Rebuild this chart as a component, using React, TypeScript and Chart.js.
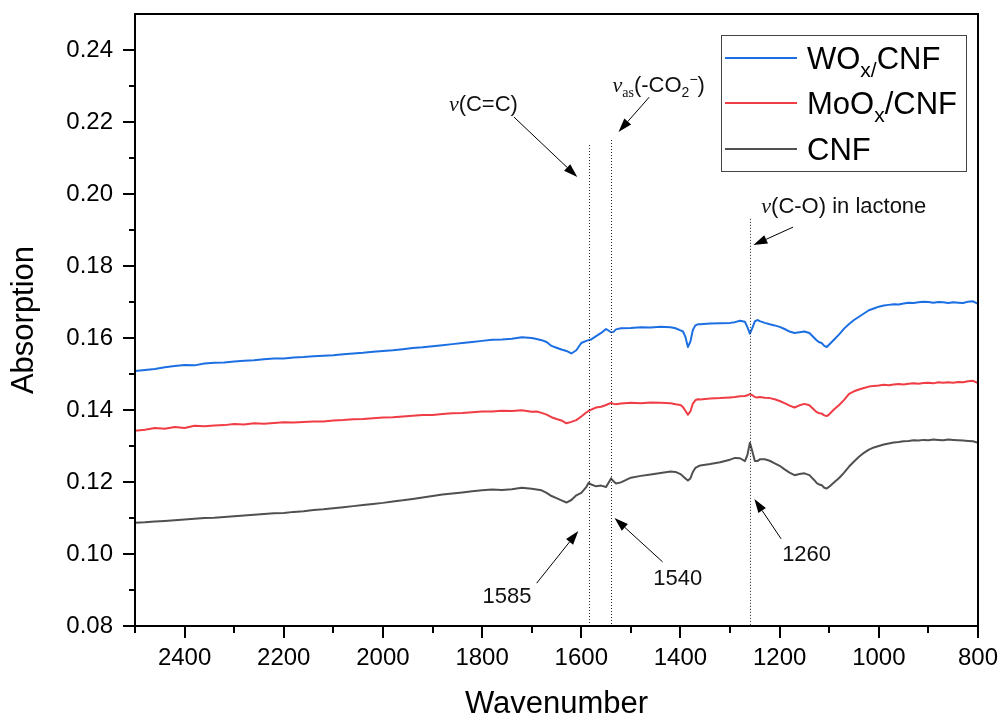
import React, { useEffect, useRef } from "react";
import { Chart, registerables } from "chart.js";

Chart.register(...registerables);

// ---------- data ----------
const wavenumbers = [
  2500, 2480, 2460, 2440, 2420, 2400, 2380, 2360, 2340, 2320, 2300, 2280, 2260, 2240, 2220,
  2200, 2180, 2160, 2140, 2120, 2100, 2080, 2060, 2040, 2020, 2000, 1980, 1960, 1940, 1920,
  1900, 1880, 1860, 1840, 1820, 1800, 1780, 1760, 1740, 1720, 1700, 1690, 1680, 1670, 1660,
  1650, 1640, 1630, 1620, 1610, 1600, 1590, 1585, 1580, 1570, 1560, 1550, 1540, 1535, 1530,
  1520, 1500, 1480, 1460, 1440, 1420, 1410, 1400, 1395, 1390, 1385, 1380, 1375, 1370, 1365,
  1360, 1340, 1320, 1300, 1290, 1280, 1270, 1265, 1260, 1255, 1250, 1245, 1240, 1230, 1220,
  1210, 1200, 1190, 1180, 1170, 1160, 1150, 1140, 1130, 1125, 1120, 1115, 1110, 1105, 1100,
  1090, 1080, 1070, 1060, 1050, 1040, 1030, 1020, 1010, 1000, 990, 980, 970, 960, 950,
  940, 930, 920, 910, 900, 890, 880, 870, 860, 850, 840, 830, 820, 810, 800,
];

const woxCnf = [
  0.1508, 0.1511, 0.1514, 0.1519, 0.1522, 0.1525, 0.1524, 0.1529, 0.1531, 0.1532, 0.1535, 0.1537, 0.1538, 0.1541, 0.1543,
  0.1543, 0.1546, 0.1547, 0.1549, 0.1551, 0.1552, 0.1555, 0.1557, 0.1559, 0.1562, 0.1564, 0.1566, 0.1569, 0.1572, 0.1574,
  0.1577, 0.158, 0.1583, 0.1586, 0.1589, 0.1592, 0.1595, 0.1596, 0.1598, 0.1602, 0.16, 0.1597, 0.1594, 0.1589, 0.1578,
  0.1573, 0.1568, 0.1564, 0.1557, 0.1566, 0.1586, 0.1592, 0.1594, 0.1596, 0.1605, 0.1614, 0.1625, 0.1616, 0.1617, 0.1624,
  0.1627, 0.1628, 0.163, 0.1629, 0.1631, 0.163, 0.1627, 0.1621, 0.1618, 0.1603, 0.1575, 0.159, 0.1622, 0.1635, 0.1638,
  0.1638, 0.164, 0.1641, 0.1642, 0.1644, 0.1648, 0.1645, 0.163, 0.1612, 0.1628, 0.1646, 0.165, 0.1647, 0.1642, 0.1638,
  0.1635, 0.1631, 0.1625, 0.1618, 0.1614, 0.1616, 0.1618, 0.1614, 0.16, 0.1593, 0.1588, 0.1586, 0.1578, 0.1575, 0.1582,
  0.1596, 0.161, 0.1626, 0.1639, 0.165, 0.1659, 0.1668, 0.1677, 0.1682, 0.1687, 0.169, 0.1692, 0.1694, 0.1693, 0.1696,
  0.1698, 0.1697, 0.1699, 0.1701, 0.17, 0.1698, 0.17, 0.1699, 0.1697, 0.1699, 0.1698, 0.1697, 0.1701, 0.1702, 0.1695,
];

const mooxCnf = [
  0.1342, 0.1345, 0.135, 0.1348, 0.1353, 0.135, 0.1356, 0.1355, 0.1357, 0.1358, 0.1361, 0.136, 0.1363, 0.1362, 0.1364,
  0.1366, 0.1365, 0.1367, 0.1368, 0.1368, 0.1371, 0.1372, 0.1374, 0.1375, 0.1377, 0.1379, 0.138, 0.1382, 0.1384, 0.1386,
  0.1386, 0.1389, 0.1391, 0.1392, 0.1394, 0.1396, 0.1396, 0.1398, 0.1397, 0.1399, 0.1395, 0.1396, 0.1392, 0.1387, 0.138,
  0.1375, 0.1371, 0.1363, 0.1367, 0.1372, 0.1382, 0.1393, 0.1398, 0.1401, 0.1407, 0.1409, 0.1414, 0.142, 0.1417, 0.1416,
  0.1418, 0.142, 0.1419, 0.1421, 0.142, 0.1419, 0.1416, 0.1414, 0.1408, 0.1398, 0.1387, 0.1396, 0.1418, 0.1427, 0.143,
  0.1429, 0.1432, 0.1433, 0.1435, 0.1436, 0.1438, 0.1439, 0.1441, 0.1444, 0.1441, 0.1436, 0.1435, 0.1436, 0.1434, 0.1433,
  0.143, 0.1425, 0.1419, 0.1412, 0.1407, 0.1413, 0.1417, 0.1413, 0.14, 0.1394, 0.1391, 0.139, 0.1385, 0.1383, 0.1388,
  0.1402, 0.1414, 0.1428, 0.1445, 0.1452, 0.1457, 0.1461, 0.1465, 0.1467, 0.1468, 0.147, 0.1469, 0.1471, 0.1472, 0.1471,
  0.1473, 0.1474, 0.1473, 0.1475, 0.1476, 0.1474, 0.1477, 0.1476, 0.1477, 0.1476, 0.1478, 0.1477, 0.148, 0.1481, 0.1475,
];

const cnf = [
  0.1087, 0.1088, 0.109, 0.1092, 0.1094, 0.1096, 0.1098, 0.11, 0.1101, 0.1103, 0.1105, 0.1107, 0.1109, 0.1111, 0.1113,
  0.1114, 0.1117, 0.1119, 0.1122, 0.1124, 0.1127, 0.113, 0.1133, 0.1136, 0.1139, 0.1142, 0.1146, 0.1149, 0.1153, 0.1157,
  0.1161, 0.1165, 0.1168, 0.1171, 0.1174, 0.1177, 0.1179, 0.1178, 0.118, 0.1184, 0.1181, 0.1179, 0.1177, 0.117, 0.1161,
  0.1155, 0.1149, 0.1143, 0.115, 0.1163, 0.117, 0.1186, 0.1198, 0.1193, 0.1188, 0.119, 0.1186, 0.121, 0.1202, 0.1196,
  0.1199, 0.1212, 0.1217, 0.1221, 0.1225, 0.1229, 0.1228, 0.1222, 0.1216, 0.121, 0.1204, 0.121, 0.1228, 0.1239, 0.1243,
  0.1246, 0.125, 0.1255, 0.1262, 0.1267, 0.1266, 0.1258, 0.1275, 0.1309, 0.1285, 0.1258, 0.1258, 0.1263, 0.1263, 0.1259,
  0.1252, 0.1245, 0.1235, 0.1226, 0.1219, 0.1222, 0.1224, 0.1219, 0.1205, 0.1197, 0.1193, 0.1191, 0.1184, 0.1182, 0.1187,
  0.1199, 0.1211, 0.1226, 0.1243, 0.1257, 0.127, 0.1281, 0.129, 0.1296, 0.13, 0.1304, 0.1307, 0.131, 0.1311, 0.1313,
  0.1314, 0.1316, 0.1315, 0.1317, 0.1316, 0.1318, 0.1317, 0.1316, 0.1318, 0.1317, 0.1316, 0.1315, 0.1314, 0.1313, 0.1309,
];

const seriesNames = ["WOx/CNF", "MoOx/CNF", "CNF"];
const seriesColors = ["#1c6fe3", "#f03c44", "#505050"];

const xMajorTicks = [2400, 2200, 2000, 1800, 1600, 1400, 1200, 1000, 800];
const xMinorTicks = [2500, 2300, 2100, 1900, 1700, 1500, 1300, 1100, 900];
const yMajorTicks = [0.08, 0.1, 0.12, 0.14, 0.16, 0.18, 0.2, 0.22, 0.24];
const yMinorTicks = [0.09, 0.11, 0.13, 0.15, 0.17, 0.19, 0.21, 0.23];

// dotted marker lines (wavenumber, top value)
const peakPositions = [1585, 1540, 1260];
const peakLineTops = [0.2136, 0.215, 0.1931];

// arrows in data coordinates: [fromX, fromY, toX, toY]
const arrowSegments = [
  [1736, 0.2214, 1608, 0.2047],
  [1463, 0.2269, 1525, 0.2172],
  [1173, 0.1908, 1253, 0.1858],
  [1690, 0.0919, 1606, 0.1064],
  [1436, 0.0978, 1533, 0.11],
  [1197, 0.1042, 1251, 0.1153],
];

// label anchors in data coordinates (left edge, vertical centre)
const labelAnchors = [
  [1867, 0.2253],
  [1537, 0.2305],
  [1237, 0.1969],
  [1799, 0.0886],
  [1455, 0.0936],
  [1195, 0.1003],
];

type Seg = { t: string; size: number; serif?: boolean; italic?: boolean; dy?: number };

const labelTexts: Seg[][] = [
  [
    { t: "ν", size: 22, serif: true, italic: true },
    { t: "(C=C)", size: 22 },
  ],
  [
    { t: "ν", size: 22, serif: true, italic: true },
    { t: "as", size: 14, serif: true, dy: 5 },
    { t: "(-CO", size: 22 },
    { t: "2", size: 14, dy: 5 },
    { t: "−", size: 14, dy: -8 },
    { t: ")", size: 22 },
  ],
  [
    { t: "ν", size: 22, serif: true, italic: true },
    { t: "(C-O) in lactone", size: 22 },
  ],
  [{ t: "1585", size: 22 }],
  [{ t: "1540", size: 22 }],
  [{ t: "1260", size: 22 }],
];

const legendTexts: Seg[][] = [
  [
    { t: "WO", size: 31 },
    { t: "x/", size: 21, dy: 8 },
    { t: "CNF", size: 31 },
  ],
  [
    { t: "MoO", size: 31 },
    { t: "x", size: 21, dy: 8 },
    { t: "/CNF", size: 31 },
  ],
  [{ t: "CNF", size: 31 }],
];

const SANS = '"Liberation Sans", Arial, Helvetica, sans-serif';
const SERIF = '"Liberation Serif", "Times New Roman", serif';

function drawRich(ctx: CanvasRenderingContext2D, segs: Seg[], x: number, yc: number) {
  const mainSize = segs.reduce((m, s) => Math.max(m, s.size), 0);
  const base = yc + 0.35 * mainSize;
  let cx = x;
  ctx.textAlign = "left";
  ctx.textBaseline = "alphabetic";
  for (const s of segs) {
    ctx.font = `${s.italic ? "italic " : ""}${s.size}px ${s.serif ? SERIF : SANS}`;
    ctx.fillText(s.t, cx, base + (s.dy || 0));
    cx += ctx.measureText(s.t).width;
  }
}

function drawArrow(ctx: CanvasRenderingContext2D, x1: number, y1: number, x2: number, y2: number) {
  const ang = Math.atan2(y2 - y1, x2 - x1);
  const len = 14;
  const hw = 4.5;
  const bx = x2 - len * Math.cos(ang);
  const by = y2 - len * Math.sin(ang);
  ctx.beginPath();
  ctx.moveTo(x1, y1);
  ctx.lineTo(bx, by);
  ctx.stroke();
  ctx.beginPath();
  ctx.moveTo(x2, y2);
  ctx.lineTo(bx + hw * Math.sin(ang), by - hw * Math.cos(ang));
  ctx.lineTo(bx - hw * Math.sin(ang), by + hw * Math.cos(ang));
  ctx.closePath();
  ctx.fill();
}

const decorPlugin = {
  id: "decor",
  afterDatasetsDraw(chart: any) {
    const { ctx, chartArea: a, scales } = chart;
    const xs = scales.x;
    const ys = scales.y;
    ctx.save();
    ctx.strokeStyle = "#222";
    ctx.lineWidth = 1;
    ctx.setLineDash([1, 2]);
    peakPositions.forEach((p, i) => {
      const px = Math.round(xs.getPixelForValue(p)) + 0.5;
      ctx.beginPath();
      ctx.moveTo(px, ys.getPixelForValue(peakLineTops[i]));
      ctx.lineTo(px, a.bottom);
      ctx.stroke();
    });
    ctx.restore();
  },
  afterDraw(chart: any) {
    const { ctx, chartArea: a, scales } = chart;
    const xs = scales.x;
    const ys = scales.y;
    ctx.save();
    // frame
    ctx.strokeStyle = "#000";
    ctx.lineWidth = 2;
    ctx.setLineDash([]);
    ctx.strokeRect(a.left, a.top, a.right - a.left, a.bottom - a.top);
    // ticks
    ctx.beginPath();
    yMajorTicks.forEach((v) => {
      const py = Math.round(ys.getPixelForValue(v));
      ctx.moveTo(a.left - 12, py);
      ctx.lineTo(a.left, py);
    });
    yMinorTicks.forEach((v) => {
      const py = Math.round(ys.getPixelForValue(v));
      ctx.moveTo(a.left - 6, py);
      ctx.lineTo(a.left, py);
    });
    xMajorTicks.forEach((v) => {
      const px = Math.round(xs.getPixelForValue(v));
      ctx.moveTo(px, a.bottom);
      ctx.lineTo(px, a.bottom + 12);
    });
    xMinorTicks.forEach((v) => {
      const px = Math.round(xs.getPixelForValue(v));
      ctx.moveTo(px, a.bottom);
      ctx.lineTo(px, a.bottom + 7);
    });
    ctx.stroke();

    // arrows
    ctx.lineWidth = 1;
    ctx.strokeStyle = "#000";
    ctx.fillStyle = "#000";
    arrowSegments.forEach(([fx, fy, tx, ty]) => {
      drawArrow(ctx, xs.getPixelForValue(fx), ys.getPixelForValue(fy), xs.getPixelForValue(tx), ys.getPixelForValue(ty));
    });

    // labels
    ctx.fillStyle = "#111";
    labelTexts.forEach((segs, i) => {
      const [lx, ly] = labelAnchors[i];
      drawRich(ctx, segs, xs.getPixelForValue(lx), ys.getPixelForValue(ly));
    });

    // legend
    const bw = 245;
    const bh = 136;
    const bl = a.right - 257;
    const bt = a.top + 21;
    ctx.fillStyle = "#fff";
    ctx.fillRect(bl, bt, bw, bh);
    ctx.strokeStyle = "#444";
    ctx.lineWidth = 1;
    ctx.strokeRect(bl + 0.5, bt + 0.5, bw, bh);
    const rows = [23, 68, 114];
    legendTexts.forEach((segs, i) => {
      const ry = bt + rows[i];
      ctx.strokeStyle = seriesColors[i];
      ctx.lineWidth = 2;
      ctx.beginPath();
      ctx.moveTo(bl + 4, ry);
      ctx.lineTo(bl + 76, ry);
      ctx.stroke();
      ctx.fillStyle = "#000";
      drawRich(ctx, segs, bl + 86, ry);
    });
    ctx.restore();
  },
};

export default function App() {
  const ref = useRef<HTMLCanvasElement | null>(null);

  useEffect(() => {
    if (!ref.current) return;
    const values = [woxCnf, mooxCnf, cnf];
    const chart = new Chart(ref.current, {
      type: "line",
      data: {
        datasets: values.map((vals, i) => ({
          label: seriesNames[i],
          data: wavenumbers.map((w, j) => ({ x: w, y: vals[j] })),
          borderColor: seriesColors[i],
          backgroundColor: seriesColors[i],
          borderWidth: 2,
          pointRadius: 0,
          tension: 0,
          borderJoinStyle: "round" as const,
          fill: false,
        })),
      },
      options: {
        animation: false,
        responsive: false,
        devicePixelRatio: 1,
        layout: { padding: { left: 0, right: 28, top: 14, bottom: 0 } },
        plugins: {
          legend: { display: false },
          tooltip: { enabled: false },
        },
        scales: {
          x: {
            type: "linear",
            reverse: true,
            min: 800,
            max: 2500,
            grid: { display: false, drawTicks: false },
            border: { display: false },
            afterBuildTicks: (scale: any) => {
              scale.ticks = xMajorTicks.map((v) => ({ value: v }));
            },
            afterFit: (scale: any) => {
              scale.height = 94;
              scale.paddingLeft = 0;
              scale.paddingRight = 0;
              scale.paddingTop = 0;
              scale.paddingBottom = 0;
            },
            ticks: {
              autoSkip: false,
              maxRotation: 0,
              padding: 18,
              color: "#000",
              font: { family: SANS, size: 24 },
              callback: (v: any) => String(v),
            },
            title: {
              display: true,
              text: "Wavenumber",
              color: "#000",
              font: { family: SANS, size: 31, lineHeight: 1 },
              padding: 0,
            },
          },
          y: {
            type: "linear",
            min: 0.08,
            max: 0.25,
            grid: { display: false, drawTicks: false },
            border: { display: false },
            afterBuildTicks: (scale: any) => {
              scale.ticks = yMajorTicks.map((v) => ({ value: v }));
            },
            afterFit: (scale: any) => {
              scale.width = 135;
              scale.paddingLeft = 0;
              scale.paddingRight = 0;
              scale.paddingTop = 0;
              scale.paddingBottom = 0;
            },
            ticks: {
              padding: 22,
              color: "#000",
              font: { family: SANS, size: 24 },
              callback: (v: any) => Number(v).toFixed(2),
            },
            title: {
              display: true,
              text: "Absorption",
              color: "#000",
              font: { family: SANS, size: 31, lineHeight: 1 },
              padding: { top: 9, bottom: 0 },
            },
          },
        },
      },
      plugins: [decorPlugin],
    });
    return () => chart.destroy();
  }, []);

  return (
    <div style={{ position: "fixed", left: 0, top: 0, width: 1006, height: 720, background: "#fff" }}>
      <canvas ref={ref} width={1006} height={720} style={{ display: "block", width: 1006, height: 720 }} />
    </div>
  );
}
